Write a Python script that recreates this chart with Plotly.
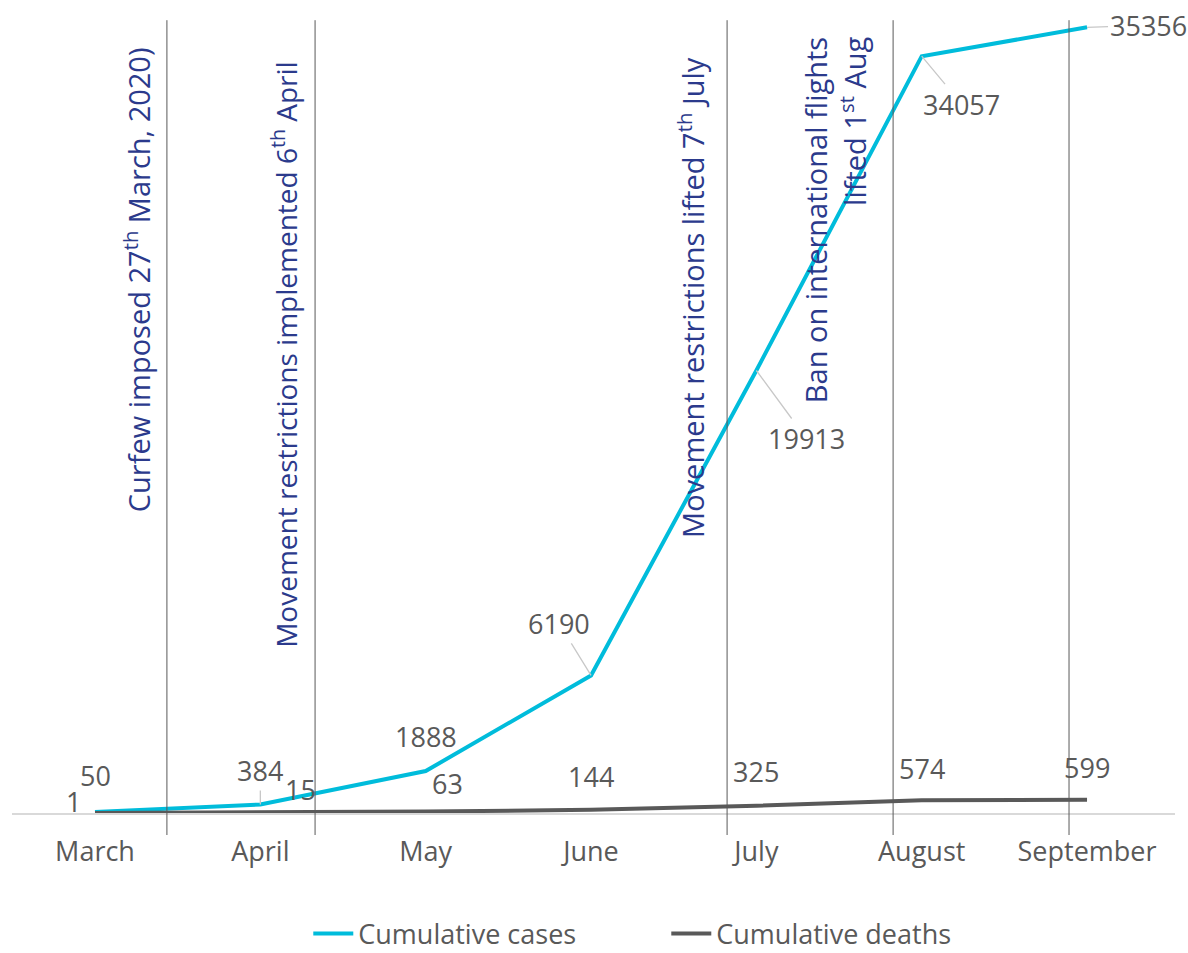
import plotly.graph_objects as go

months = ["March", "April", "May", "June", "July", "August", "September"]
cases = [50, 384, 1888, 6190, 19913, 34057, 35356]
deaths = [1, 15, 63, 144, 325, 574, 599]

# event markers: position between month categories and caption
event_x = [0.435, 1.331, 3.823, 4.827, 5.891]
event_text = [
    "Curfew imposed 27<sup>th</sup> March, 2020)",
    "Movement restrictions implemented 6<sup>th</sup> April",
    "Movement restrictions lifted 7<sup>th</sup> July",
    "Ban on international flights",
    "lifted 1<sup>st</sup> Aug",
]

FONT = "Open Sans"
GREY = "#595959"
CYAN = "#00BCDB"
NAVY = "#2B3A8C"

xs = list(range(len(months)))

fig = go.Figure()
fig.add_trace(go.Scatter(x=xs, y=cases, mode="lines", name="Cumulative cases",
                         line=dict(color=CYAN, width=4)))
fig.add_trace(go.Scatter(x=xs, y=deaths, mode="lines", name="Cumulative deaths",
                         line=dict(color=GREY, width=4)))

# vertical event lines
for ex in event_x:
    fig.add_shape(type="line", xref="x", yref="paper", x0=ex, x1=ex, y0=-0.0275, y1=0.991,
                  line=dict(color="#595959", width=1))

# label offsets (pixels) for the case values; leader lines where drawn
case_offsets = [
    dict(xshift=0, yshift=36, showarrow=False),
    dict(showarrow=True, ax=0, ay=-34, xshift=0),
    dict(xshift=0, yshift=35, showarrow=False),
    dict(showarrow=True, ax=-32, ay=-52),
    dict(showarrow=True, ax=50, ay=68),
    dict(showarrow=True, ax=40, ay=48),
    dict(showarrow=True, ax=61, ay=-2),
]
death_offsets = [
    dict(xshift=-22, yshift=11),
    dict(xshift=40, yshift=23),
    dict(xshift=22, yshift=28),
    dict(xshift=0, yshift=33),
    dict(xshift=0, yshift=34),
    dict(xshift=0, yshift=32),
    dict(xshift=0, yshift=32),
]

for i, v in enumerate(cases):
    o = case_offsets[i]
    fig.add_annotation(x=xs[i], y=v, text=str(v), font=dict(family=FONT, size=27, color=GREY),
                       arrowhead=0, arrowwidth=1.3, arrowcolor="#C8C8C8", **o)
for i, v in enumerate(deaths):
    o = death_offsets[i]
    fig.add_annotation(x=xs[i], y=v, text=str(v), showarrow=False,
                       font=dict(family=FONT, size=27, color=GREY), **o)

# rotated event captions (x in category units, y in paper units)
cap_pos = [
    (0.254, 0.666, "middle", 29),
    (1.142, 0.5725, "middle", 28),
    (3.604, 0.645, "middle", 29),
    (4.362, 0.9725, "top", 29),
    (4.587, 0.9725, "top", 29),
]
for (cx, cy, ya, fs), t in zip(cap_pos, event_text):
    fig.add_annotation(x=cx, y=cy, xref="x", yref="paper", text=t, textangle=-90,
                       showarrow=False, yanchor=ya,
                       font=dict(family=FONT, size=fs, color=NAVY))

fig.update_layout(
    width=1188, height=953,
    margin=dict(l=12, r=13, t=13, b=140, autoexpand=False),
    paper_bgcolor="white", plot_bgcolor="white",
    showlegend=True,
    legend=dict(orientation="h", xref="container", yref="container",
                x=0.2595, xanchor="left", y=0.02, yanchor="middle",
                font=dict(family=FONT, size=27, color=GREY), itemwidth=40,
                tracegroupgap=0, entrywidth=303, entrywidthmode="pixels"),
    xaxis=dict(range=[-0.502, 6.532], tickmode="array", tickvals=xs, ticktext=months,
               showgrid=False, zeroline=False, showline=True, linecolor="#D9D9D9", linewidth=1.5,
               ticks="outside", ticklen=14, tickcolor="rgba(0,0,0,0)",
               tickfont=dict(family=FONT, size=27, color=GREY)),
    yaxis=dict(range=[0, 36000], visible=False, showgrid=False, zeroline=False),
)

fig.write_html("out.html")
